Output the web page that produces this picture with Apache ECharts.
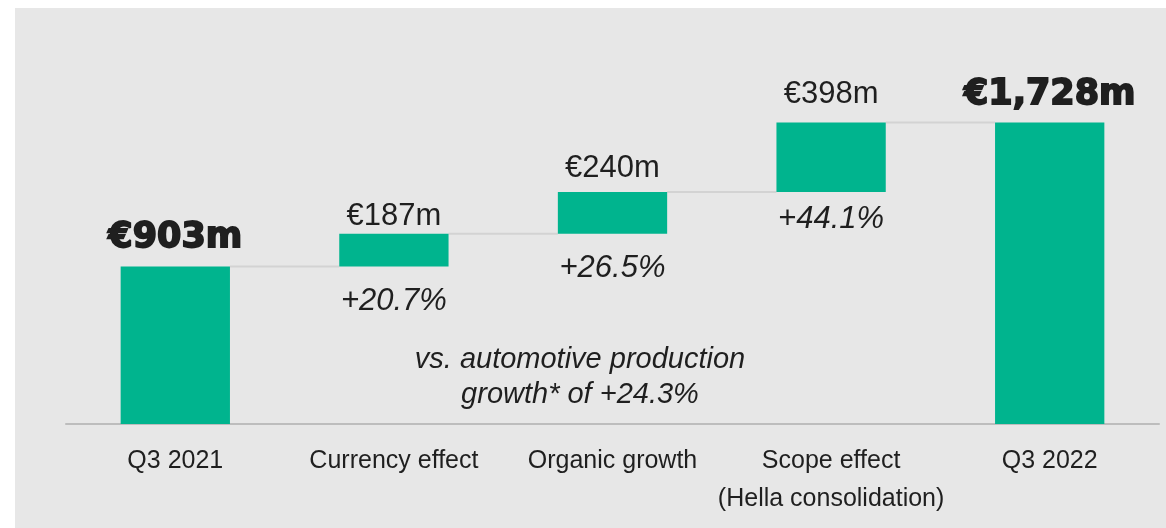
<!DOCTYPE html>
<html>
<head>
<meta charset="utf-8">
<script src="https://cdn.jsdelivr.net/npm/echarts@6/dist/echarts.min.js"></script>
<style>
  html, body { margin: 0; padding: 0; background: #ffffff; }
  #chart { position: absolute; left: 15px; top: 8px; width: 1151px; height: 520px; }
</style>
</head>
<body>
<div id="chart"></div>
<script>
	// data
	var categories = ['Q3 2021', 'Currency effect', 'Organic growth', 'Scope effect\n(Hella consolidation)', 'Q3 2022'];
	var amounts = [903, 187, 240, 398, 1728];
	var isTotal = [true, false, false, false, true];
	var changeLabels = ['', '+20.7%', '+26.5%', '+44.1%', ''];
	var noteText = 'vs. automotive production\ngrowth* of +24.3%';

	var green = '#00b48e';
	var textColor = '#1f1f1f';
	// small per-bar nudges of the labels, as on the slide
	var labelGap = [11, 2, 8, 13, 10];
	var changeGap = [19, 19, 19, 12, 19];

	// invisible base + visible step for the waterfall
	var base = [], steps = [], levels = [];
	var running = 0;
	for (var i = 0; i < amounts.length; i++) {
		if (isTotal[i]) {
			base.push({ value: 0 });
			running = amounts[i];
		} else {
			base.push({ value: running, label: { distance: changeGap[i] } });
			running += amounts[i];
		}
		var lbl = { distance: labelGap[i] };
		if (isTotal[i]) {
			lbl.fontFamily = 'DejaVu Sans';
			lbl.fontWeight = 'bold';
			lbl.fontSize = 35;
			lbl.textBorderColor = textColor;
			lbl.textBorderWidth = 1.8;
		}
		steps.push({ value: amounts[i], label: lbl });
		if (i < amounts.length - 1) levels.push([i, running]);
	}

	var chart = echarts.init(document.getElementById('chart'));
	var option = {
		backgroundColor: '#e7e7e7',
		animation: false,
		grid: { left: 51, right: 7, top: 67, bottom: 104 },
		xAxis: {
			type: 'category',
			data: categories,
			axisLine: { lineStyle: { color: '#bdbdbd', width: 2 } },
			axisTick: { show: false },
			axisLabel: {
				interval: 0,
				margin: 18,
				fontFamily: 'Liberation Sans',
				fontSize: 25,
				lineHeight: 38,
				color: textColor
			}
		},
		yAxis: { type: 'value', min: 0, max: 2000, show: false },
		series: [
			{
				// connector lines between bars
				type: 'custom',
				z: 1,
				data: levels,
				renderItem: function (params, api) {
					var idx = api.value(0), lvl = api.value(1);
					var p1 = api.coord([idx, lvl]);
					var p2 = api.coord([idx + 1, lvl]);
					var half = api.size([1, 0])[0] * 0.25;
					return {
						type: 'line',
						shape: { x1: p1[0] + half, y1: p1[1], x2: p2[0] - half, y2: p2[1] },
						style: { stroke: '#d3d3d3', lineWidth: 2 }
					};
				}
			},
			{
				type: 'bar',
				stack: 'wf',
				barWidth: '50%',
				z: 2,
				itemStyle: { color: 'transparent' },
				data: base,
				label: {
					show: true,
					position: 'insideTop',
					distance: 19,
					fontFamily: 'Liberation Sans',
					fontStyle: 'italic',
					fontSize: 31,
					color: textColor,
					formatter: function (p) { return changeLabels[p.dataIndex]; }
				}
			},
			{
				type: 'bar',
				stack: 'wf',
				barWidth: '50%',
				z: 3,
				itemStyle: { color: green },
				data: steps,
				label: {
					show: true,
					position: 'top',
					fontFamily: 'Liberation Sans',
					fontSize: 31,
					color: textColor,
					formatter: function (p) {
						return '€' + p.value.toLocaleString('en-US') + 'm';
					}
				}
			}
		],
		graphic: [{
			type: 'text',
			x: 565,
			y: 369,
			style: {
				text: noteText,
				fontFamily: 'Liberation Sans',
				fontStyle: 'italic',
				fontSize: 29,
				lineHeight: 35,
				fill: textColor,
				align: 'center',
				verticalAlign: 'middle'
			}
		}]
	};
	chart.setOption(option);
</script>
</body>
</html>
